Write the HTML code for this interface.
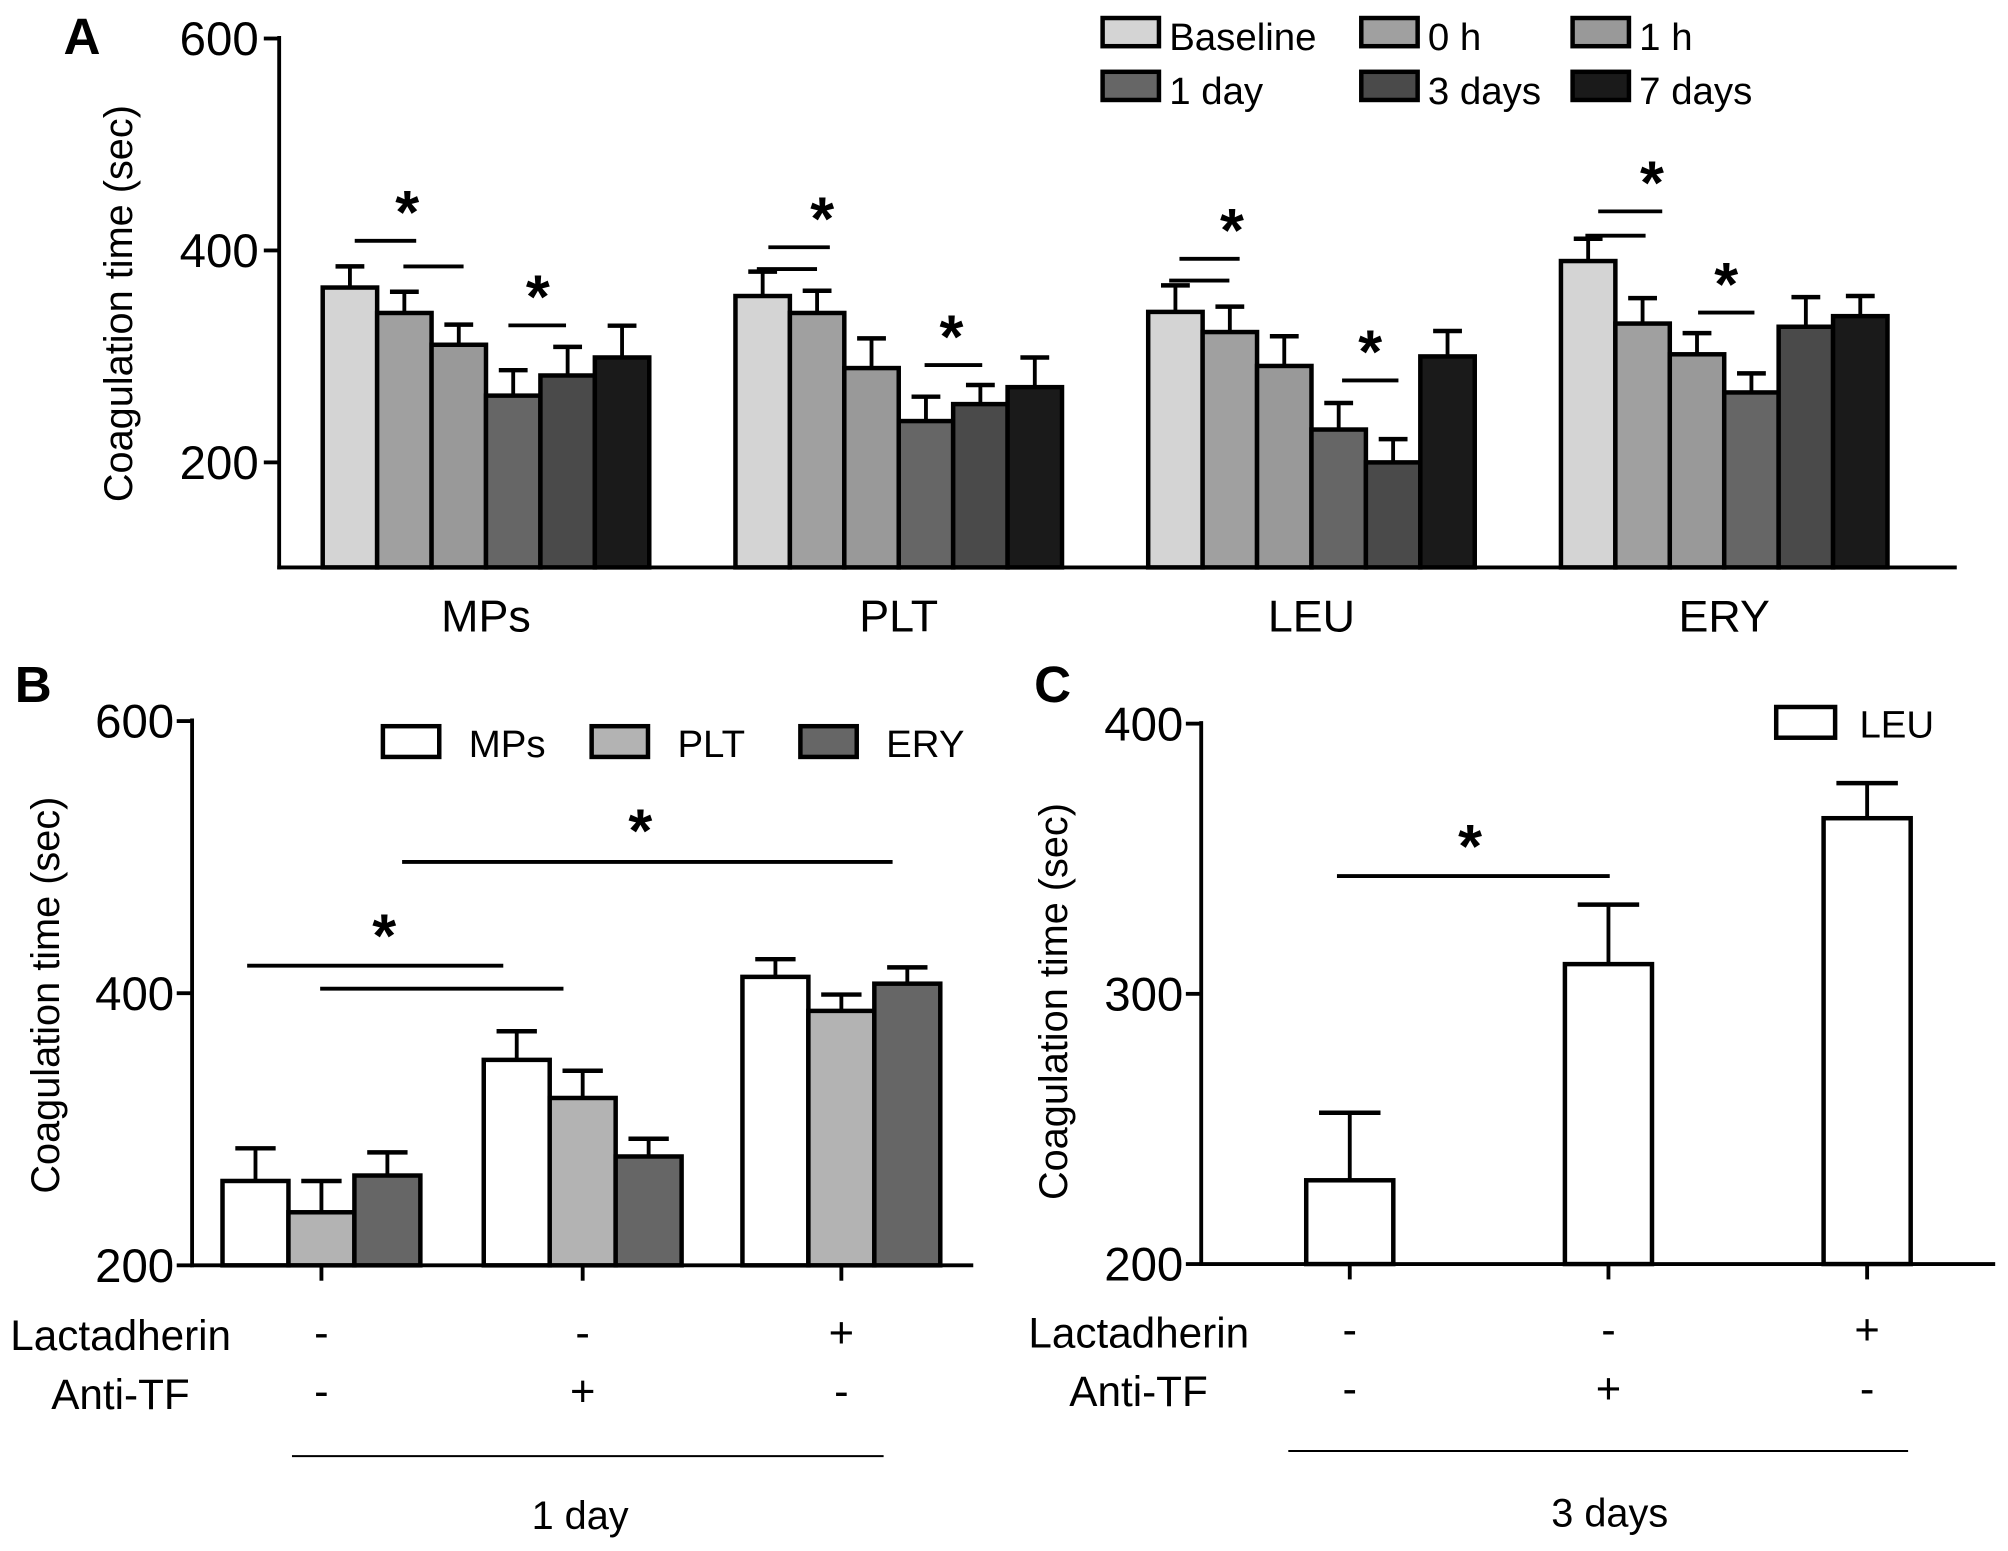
<!DOCTYPE html>
<html><head><meta charset="utf-8"><style>
html,body{margin:0;padding:0;background:#fff}
svg{display:block;font-family:"Liberation Sans",Arial,sans-serif}
</style></head><body>
<svg id="fig" width="2008" height="1551" viewBox="0 0 1568 1211" xmlns="http://www.w3.org/2000/svg">
<g id="A"></g>
<g id="B"></g>
<g id="C"></g>
</svg>
<script>
// Panel A data
const catsA = ["MPs","PLT","LEU","ERY"];
const seriesA = ["Baseline","0 h","1 h","1 day","3 days","7 days"];
const valsA = [[365,341,311,263,282,299],[357,341,289,239,255,271],[342,323,291,231,200,300],[390,331,302,266,328,338]];
const errA = [[20,20,19,24,27,30],[23,21,28,23,18,28],[25,24,28,25,22,24],[21,24,20,18,28,19]];
const ticksA = [200,400,600];
// Panel B data
const seriesB = ["MPs","PLT","ERY"];
const valsB = [[262,239,266],[351,323,280],[412,387,407]];
const errB = [[24,23,17],[21,20,13],[13,12,12]];
const ticksB = [200,400,600];
// Panel C data
const valsC = [231,311,365];
const errC = [25,22,13];
const ticksC = [200,300,400];
const lact = ["-","-","+"];
const antiTF = ["-","+","-"];

const NS="http://www.w3.org/2000/svg";
function mk(parent,tag,attrs,text){const e=document.createElementNS(NS,tag);for(const k in attrs)e.setAttribute(k,attrs[k]);if(text!==undefined)e.textContent=text;parent.appendChild(e);return e;}
function line(p,x1,y1,x2,y2,w,name){const e=mk(p,"line",{x1:x1,y1:y1,x2:x2,y2:y2,stroke:"#000","stroke-width":w||3});

return e;}
function txt(p,x,y,s,size,anchor,name,weight){const e=mk(p,"text",{x:x,y:y,"font-size":size,"text-anchor":anchor||"middle","font-weight":weight||"normal"},s);

return e;}
function bar(p,x,w,yTop,yBase,fill,errTop,name){
 const r=mk(p,"rect",{x:x,y:yTop,width:w,height:yBase-yTop,fill:fill,stroke:"#000","stroke-width":3.5});
 
 
 line(p,x+w/2,yTop,x+w/2,errTop,3,name+'-error');
 line(p,x+w/2-w*0.5+10,errTop,x+w/2+w*0.5-10,errTop,3.5,name+'-error-cap');
}
function star(p,x,y){txt(p,x,y+4,"*",48,"middle","significance-star","bold");}

// ---------- Panel A
(function(){
 const g=document.getElementById("A");
 const x0=218,xEnd=1528,yA=v=>30+(600-v)*(165.5/200),yBase=443;
 const cols=["#d4d4d4","#a0a0a0","#999999","#666666","#4a4a4a","#1a1a1a"];
 line(g,x0,28,x0,yBase+1.5,3,"y-axis");
 line(g,x0-1.5,yBase,xEnd,yBase,3,"x-axis");
 ticksA.forEach(t=>{line(g,x0-12,yA(t),x0,yA(t),3,"y-tick");txt(g,x0-16,yA(t)+13,String(t),37,"end","y-tick-label");});
 txt(g,64,42,"A",40,"middle","panel-label-a","bold");
 const tt=txt(g,0,0,"Coagulation time (sec)",31,"middle","y-axis-title");tt.setAttribute("transform","translate(103,237) rotate(-90)");
 const bw=42.5;
 catsA.forEach((c,i)=>{const gx=252+i*322.3;
  valsA[i].forEach((v,j)=>bar(g,gx+j*bw,bw,yA(v),yBase,cols[j],yA(v+errA[i][j]),"bar-"+c.toLowerCase()+"-"+j));
  txt(g,gx+3*bw,493,c,35,"middle","category-label");
 });
 const sig=[[277,325,188,362,208,318,178],[600,648,193,638,210,642,183],[921,968,202,960,219,962,192],[1248,1298,165,1285,184,1290,155]];
 sig.forEach(s=>{line(g,s[0],s[2],s[1],s[2],3,"significance-line");line(g,s[3]-47,s[4],s[3],s[4],3,"significance-line");star(g,s[5],s[6]);});
 const sig2=[[397,442,254,420,244],[722,767,285,743,275],[1048,1092,297,1070,287],[1326,1370,244,1348,234]];
 sig2.forEach(s=>{line(g,s[0],s[2],s[1],s[2],3,"significance-line");star(g,s[3],s[4]);});
 const pos=[[861,14],[1063,14],[1228,14],[861,56],[1063,56],[1228,56]];
 seriesA.forEach((s,j)=>{const r=mk(g,"rect",{x:pos[j][0],y:pos[j][1],width:44,height:22,fill:cols[j],stroke:"#000","stroke-width":3.5});
  
  txt(g,pos[j][0]+52,pos[j][1]+25,s,30,"start","legend-entry");});
})();

// ---------- Panel B
(function(){
 const g=document.getElementById("B");
 const x0=150,yB=v=>563+(600-v)*(212.5/200),yBase=988;
 const cols=["#ffffff","#b3b3b3","#666666"];
 line(g,x0,561,x0,yBase+1.5,3,"y-axis");
 line(g,x0-1.5,yBase,760,yBase,3,"x-axis");
 ticksB.forEach(t=>{line(g,x0-12,yB(t),x0,yB(t),3,"y-tick");txt(g,x0-14,yB(t)+13,String(t),37,"end","y-tick-label");});
 txt(g,26,548,"B",40,"middle","panel-label-b","bold");
 const tt=txt(g,0,0,"Coagulation time (sec)",31,"middle","y-axis-title");tt.setAttribute("transform","translate(46,777) rotate(-90)");
 const centers=[251,455,657],bw=51.5;
 valsB.forEach((grp,i)=>{line(g,centers[i],yBase,centers[i],yBase+12,3,"x-tick");
  grp.forEach((v,j)=>bar(g,centers[i]-1.5*bw+j*bw,bw,yB(v),yBase,cols[j],yB(v+errB[i][j]),"bar-group"+(i+1)+"-"+seriesB[j].toLowerCase()));
  txt(g,centers[i],1052,lact[i],34,"middle","lactadherin-sign");
  txt(g,centers[i],1098,antiTF[i],34,"middle","anti-tf-sign");
 });
 txt(g,8,1054,"Lactadherin",33,"start","lactadherin-label");
 txt(g,40,1100,"Anti-TF",33,"start","anti-tf-label");
 line(g,228,1137,690,1137,1.5,"time-bracket");
 txt(g,453,1194,"1 day",31,"middle","time-label");
 line(g,193,754,393,754,3,"significance-line");line(g,250,772,440,772,3,"significance-line");star(g,300,743);
 line(g,314,673,697,673,3,"significance-line");star(g,500,661);
 const lx=[299,462,625];
 seriesB.forEach((s,j)=>{const r=mk(g,"rect",{x:lx[j],y:567,width:44,height:24,fill:cols[j],stroke:"#000","stroke-width":3.5});
  
  txt(g,lx[j]+67,591,s,30,"start","legend-entry");});
})();

// ---------- Panel C
(function(){
 const g=document.getElementById("C");
 const x0=938,yC=v=>565+(400-v)*(422/200),yBase=987;
 line(g,x0,563,x0,yBase+1.5,3,"y-axis");
 line(g,x0-1.5,yBase,1558,yBase,3,"x-axis");
 ticksC.forEach(t=>{line(g,x0-12,yC(t),x0,yC(t),3,"y-tick");txt(g,x0-14,yC(t)+13,String(t),37,"end","y-tick-label");});
 txt(g,822,548,"C",40,"middle","panel-label-c","bold");
 const tt=txt(g,0,0,"Coagulation time (sec)",31,"middle","y-axis-title");tt.setAttribute("transform","translate(833,782) rotate(-90)");
 const centers=[1054,1256,1458],bw=68;
 valsC.forEach((v,i)=>{line(g,centers[i],yBase,centers[i],yBase+12,3,"x-tick");
  bar(g,centers[i]-bw/2,bw,yC(v),yBase,"#fff",yC(v+errC[i]),"bar-leu-"+(i+1));
  txt(g,centers[i],1050,lact[i],34,"middle","lactadherin-sign");
  txt(g,centers[i],1096,antiTF[i],34,"middle","anti-tf-sign");
 });
 txt(g,803,1052,"Lactadherin",33,"start","lactadherin-label");
 txt(g,835,1098,"Anti-TF",33,"start","anti-tf-label");
 line(g,1006,1133,1490,1133,1.5,"time-bracket");
 txt(g,1257,1192,"3 days",31,"middle","time-label");
 line(g,1044,684,1257,684,3,"significance-line");star(g,1148,673);
 const r=mk(g,"rect",{x:1387,y:552,width:46,height:24,fill:"#fff",stroke:"#000","stroke-width":3.5});
 
 txt(g,1452,576,"LEU",30,"start","legend-entry");
})();
</script>
</body></html>
